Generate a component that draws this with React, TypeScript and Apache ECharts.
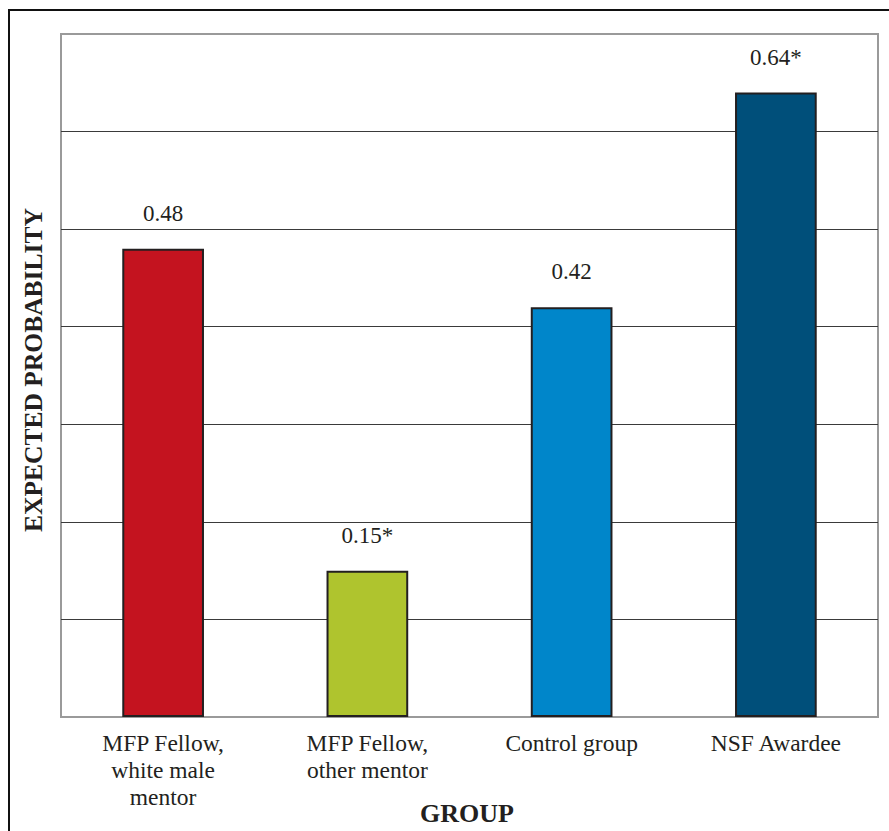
import React, { useEffect, useRef } from "react";
import * as echarts from "echarts";

const categories = [
  "MFP Fellow,\nwhite male\nmentor",
  "MFP Fellow,\nother mentor",
  "Control group",
  "NSF Awardee",
];
const values = [0.48, 0.15, 0.42, 0.64];
const valueLabels = ["0.48", "0.15*", "0.42", "0.64*"];
const barColors = ["#c4131f", "#afc42e", "#0086ca", "#004f7a"];

const FONT = "'Liberation Serif', 'DejaVu Serif', serif";

export default function App() {
  const ref = useRef<HTMLDivElement>(null);
  useEffect(() => {
    document.body.style.margin = "0";
    const chart = echarts.init(ref.current!, null, { renderer: "svg" });
    chart.setOption({
      animation: false,
      backgroundColor: "#ffffff",
      textStyle: { fontFamily: FONT },
      graphic: [
        {
          type: "rect",
          shape: { x: 9, y: 10, width: 1000, height: 1000 },
          style: { fill: "none", stroke: "#111", lineWidth: 2 },
          z: -1,
        },
        {
          type: "text",
          x: 33,
          y: 370,
          rotation: Math.PI / 2,
          style: {
            text: "EXPECTED PROBABILITY",
            font: "bold 25.5px " + FONT,
            fill: "#231f20",
            align: "center",
            verticalAlign: "middle",
          },
        },
        {
          type: "text",
          x: 467,
          y: 813,
          style: {
            text: "GROUP",
            font: "bold 26px " + FONT,
            fill: "#231f20",
            align: "center",
            verticalAlign: "middle",
          },
        },
      ],
      grid: {
        left: 61,
        top: 34,
        right: 11,
        bottom: 114,
        outerBoundsMode: "none",
        containLabel: false,
        show: true,
        borderColor: "#9a9a9a",
        borderWidth: 2,
        backgroundColor: "transparent",
      },
      xAxis: {
        type: "category",
        data: categories,
        axisLine: { show: true, lineStyle: { color: "#9a9a9a", width: 2 } },
        axisTick: { show: false },
        axisLabel: {
          fontFamily: FONT,
          fontSize: 23.5,
          lineHeight: 27,
          color: "#231f20",
          margin: 12,
          interval: 0,
        },
      },
      yAxis: {
        type: "value",
        min: 0,
        max: 0.7,
        interval: 0.1,
        axisLine: { show: false },
        axisTick: { show: false },
        axisLabel: { show: false },
        splitLine: {
          show: true,
          showMinLine: false,
          showMaxLine: false,
          lineStyle: { color: "#3a3a3a", width: 1 },
        },
      },
      series: [
        {
          type: "bar",
          barWidth: "40%",
          data: values.map((v, i) => ({
            value: v,
            itemStyle: {
              color: barColors[i],
              borderColor: "#231f20",
              borderWidth: 2,
            },
            label: {
              show: true,
              position: "top",
              distance: 24,
              formatter: valueLabels[i],
              fontFamily: FONT,
              fontSize: 23,
              color: "#231f20",
            },
          })),
        },
      ],
    });
    return () => chart.dispose();
  }, []);
  return (
    <div
      ref={ref}
      style={{ position: "fixed", left: 0, top: 0, width: 889, height: 831 }}
    />
  );
}
